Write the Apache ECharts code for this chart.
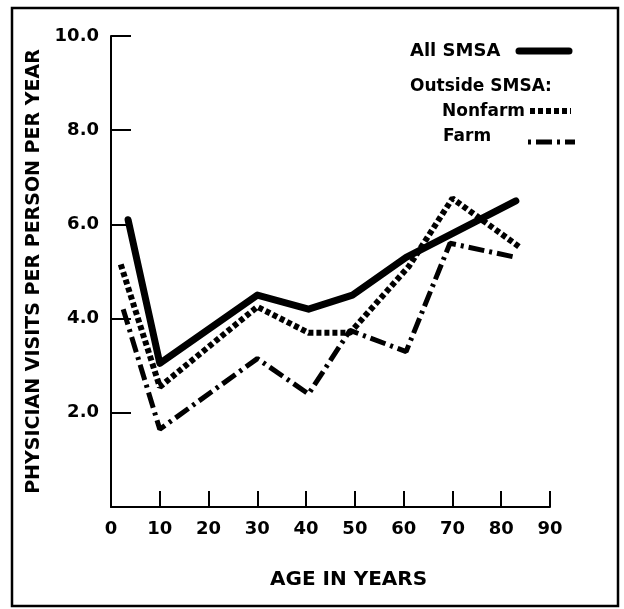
<!DOCTYPE html>
<html>
<head>
<meta charset="utf-8">
<script src="https://cdn.jsdelivr.net/npm/echarts@6/dist/echarts.min.js"></script>
<style>
html,body{margin:0;padding:0;background:#fff;}
#chart{width:624px;height:609px;}
</style>
</head>
<body>
<div id="chart"></div>
<script>
// Age (years) and physician visits per person per year
const allSmsaAges = [3.5, 10, 30, 40.5, 49.5, 60.5, 83];
const allSmsaVisits = [6.1, 3.05, 4.5, 4.2, 4.5, 5.3, 6.5];
const nonfarmAges = [2, 10, 30, 40.5, 49, 61, 70, 84];
const nonfarmVisits = [5.15, 2.55, 4.25, 3.7, 3.7, 5.1, 6.55, 5.5];
const farmAges = [2.5, 10, 30, 40.5, 49, 60.5, 69.5, 83];
const farmVisits = [4.2, 1.65, 3.15, 2.4, 3.75, 3.3, 5.6, 5.3];
const xTicks = [0, 10, 20, 30, 40, 50, 60, 70, 80, 90];
const yTicks = [2.0, 4.0, 6.0, 8.0, 10.0];
const seriesNames = ['All SMSA', 'Nonfarm', 'Farm'];
const xTitle = 'AGE IN YEARS';
const yTitle = 'PHYSICIAN VISITS PER PERSON PER YEAR';

const pair = (xs, ys) => xs.map((x, i) => [x, ys[i]]);
const FONT = '"DejaVu Sans", sans-serif';

const chart = echarts.init(document.getElementById('chart'), null, {renderer: 'canvas'});
chart.setOption({
  backgroundColor: '#fff',
  animation: false,
  grid: {left: 111, right: 74, top: 36, bottom: 102},
  xAxis: {
    type: 'value', min: 0, max: 90, interval: 10,
    axisLine: {show: true, onZero: false, lineStyle: {color: '#000', width: 2}},
    axisTick: {show: true, inside: true, length: 16, lineStyle: {color: '#000', width: 2}},
    splitLine: {show: false},
    axisLabel: {fontFamily: FONT, fontWeight: 'bold', fontSize: 18, color: '#000', margin: 13,
      formatter: v => xTicks.includes(v) ? String(v) : ''}
  },
  yAxis: {
    type: 'value', min: 0, max: 10, interval: 2,
    name: yTitle, nameLocation: 'middle', nameGap: 60,
    nameTextStyle: {fontFamily: FONT, fontWeight: 'bold', fontSize: 19, color: '#000'},
    axisLine: {show: true, onZero: false, lineStyle: {color: '#000', width: 2}},
    axisTick: {show: true, inside: true, length: 20, lineStyle: {color: '#000', width: 2}},
    splitLine: {show: false},
    axisLabel: {fontFamily: FONT, fontWeight: 'bold', fontSize: 18, color: '#000', margin: 12,
      formatter: v => yTicks.includes(v) ? v.toFixed(1) : ''}
  },
  series: [
    {name: seriesNames[0], type: 'line', data: pair(allSmsaAges, allSmsaVisits), symbol: 'none',
     lineStyle: {color: '#000', width: 7, type: 'solid', cap: 'round', join: 'round'}, z: 3},
    {name: seriesNames[1], type: 'line', data: pair(nonfarmAges, nonfarmVisits), symbol: 'none',
     lineStyle: {color: '#000', width: 6, type: [5, 3]}, z: 2},
    {name: seriesNames[2], type: 'line', data: pair(farmAges, farmVisits), symbol: 'none',
     lineStyle: {color: '#000', width: 5, type: [16, 5, 3, 5]}, z: 1}
  ],
  graphic: [
    {type: 'rect', shape: {x: 12, y: 8, width: 606, height: 598},
     style: {fill: 'none', stroke: '#000', lineWidth: 2.5}, silent: true},
    {type: 'text', left: 270, top: 570, style: {text: xTitle, font: 'bold 20px ' + FONT, fill: '#000'}},
    {type: 'text', left: 410, top: 42, style: {text: seriesNames[0], font: 'bold 18px ' + FONT, fill: '#000'}},
    {type: 'line', shape: {x1: 519, y1: 51, x2: 569, y2: 51},
     style: {stroke: '#000', lineWidth: 7, lineCap: 'round'}},
    {type: 'text', left: 410, top: 78, style: {text: 'Outside SMSA:', font: 'bold 17px ' + FONT, fill: '#000'}},
    {type: 'text', left: 442, top: 103, style: {text: seriesNames[1], font: 'bold 17px ' + FONT, fill: '#000'}},
    {type: 'line', shape: {x1: 530, y1: 111, x2: 571, y2: 111},
     style: {stroke: '#000', lineWidth: 6, lineDash: [5, 3]}},
    {type: 'text', left: 443, top: 128, style: {text: seriesNames[2], font: 'bold 17px ' + FONT, fill: '#000'}},
    {type: 'line', shape: {x1: 528, y1: 142, x2: 575, y2: 142},
     style: {stroke: '#000', lineWidth: 5, lineDash: [3, 5, 16, 5]}}
  ]
});
</script>
</body>
</html>
